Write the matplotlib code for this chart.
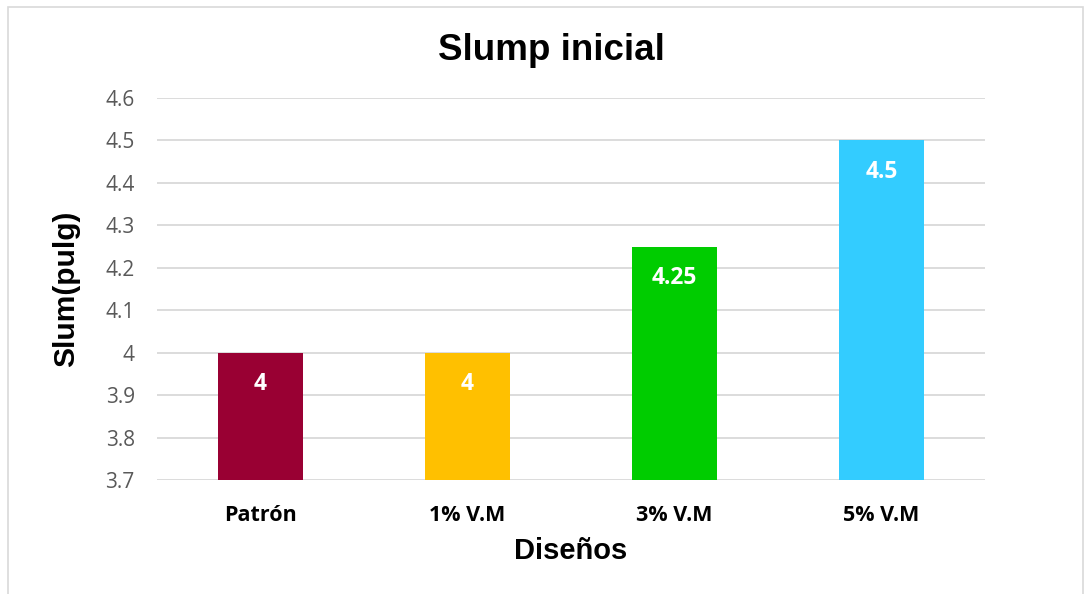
import matplotlib
matplotlib.use("Agg")
import matplotlib.pyplot as plt
from matplotlib.patches import Rectangle

categories = ["Patrón", "1% V.M", "3% V.M", "5% V.M"]
values = [4, 4, 4.25, 4.5]
labels = ["4", "4", "4.25", "4.5"]
colors = ["#990033", "#FFC000", "#00CC00", "#33CCFF"]
yticks = [3.7, 3.8, 3.9, 4.0, 4.1, 4.2, 4.3, 4.4, 4.5, 4.6]
ytick_labels = ["3.7", "3.8", "3.9", "4", "4.1", "4.2", "4.3", "4.4", "4.5", "4.6"]

W, H = 1086, 594
fig = plt.figure(figsize=(W / 100, H / 100), dpi=100)
fig.patches.append(Rectangle((8 / W, -0.1), (1083 - 8) / W, 1.1 - 7 / H,
                             transform=fig.transFigure, fill=False,
                             edgecolor="#D9D9D9", linewidth=1.2))

ax = fig.add_axes([157 / W, 1 - 480 / H, (985 - 157) / W, (480 - 98) / H])
x = list(range(len(categories)))
ax.bar(x, values, width=0.41, color=colors, zorder=3, bottom=0)
ax.set_xlim(-0.5, 3.5)
ax.set_ylim(3.7, 4.6)
ax.set_yticks(yticks)
ax.set_yticklabels(ytick_labels, fontfamily="Open Sans", fontsize=15, color="#595959")
ax.set_xticks(x)
ax.set_xticklabels(categories, fontfamily="Open Sans", fontsize=15.5, fontweight="bold", color="black")
ax.tick_params(axis="both", length=0)
ax.tick_params(axis="y", pad=16)
ax.tick_params(axis="x", pad=18)
ax.yaxis.grid(True, color="#D9D9D9", linewidth=1.3, zorder=0)
for s in ax.spines.values():
    s.set_visible(False)

for xi, v, lab in zip(x, values, labels):
    ax.annotate(lab, (xi, v), xytext=(0, -22.5), textcoords="offset points",
                ha="center", va="center", color="white", fontsize=16.5,
                fontweight="bold", fontfamily="Open Sans", zorder=4)

fig.text(551 / W, 1 - 50 / H, "Slump inicial", ha="center", va="center",
         fontfamily="Liberation Sans", fontweight="bold", fontsize=26.5)
fig.text(571 / W, 1 - 551 / H, "Diseños", ha="center", va="center",
         fontfamily="Liberation Sans", fontweight="bold", fontsize=21)
fig.text(66 / W, 1 - 289 / H, "Slum(pulg)", ha="center", va="center", rotation=90,
         fontfamily="Liberation Sans", fontweight="bold", fontsize=21.5)

fig.savefig("out.png", dpi=100)
